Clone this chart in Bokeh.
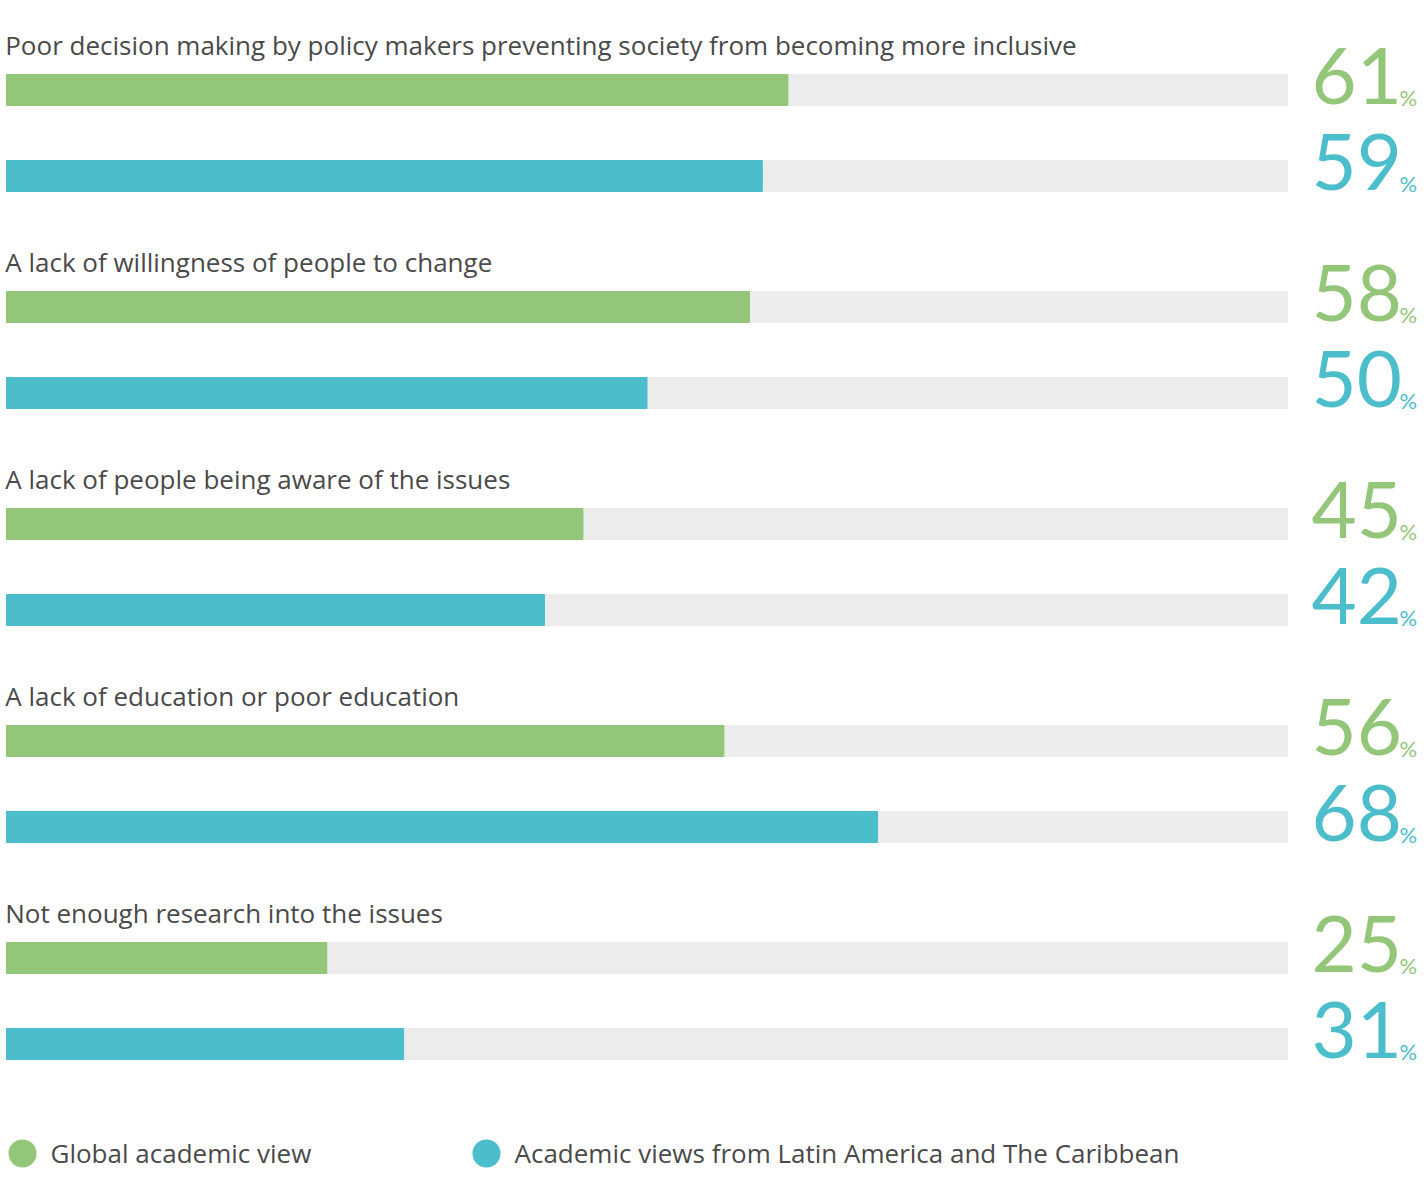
from bokeh.plotting import figure
from bokeh.models import Range1d, ColumnDataSource
from bokeh.core.properties import value
from bokeh.embed import file_html
from bokeh.resources import INLINE

categories = [
    "Poor decision making by policy makers preventing society from becoming more inclusive",
    "A lack of willingness of people to change",
    "A lack of people being aware of the issues",
    "A lack of education or poor education",
    "Not enough research into the issues",
]
global_vals = [61, 58, 45, 56, 25]
latam_vals = [59, 50, 42, 68, 31]
series_names = ["Global academic view", "Academic views from Latin America and The Caribbean"]

GREEN = "#93c679"
BLUE = "#4bbdcb"
TRACK = "#ececec"
TEXT = "#4a4a4a"
LABEL_FONT = "Open Sans"
NUM_FONT = "Lato"

W, H = 1418, 1180
PX_PER_UNIT = 12.81          # pixels per percentage point
X0_PX = 6                    # picture x of 0 %
x_start = -X0_PX / PX_PER_UNIT
x_end = x_start + W / PX_PER_UNIT

p = figure(width=W, height=H, output_backend="svg", toolbar_location=None,
           x_range=Range1d(x_start, x_end), y_range=Range1d(H, 0),
           min_border=0)
p.axis.visible = False
p.grid.visible = False
p.outline_line_color = None
p.background_fill_color = "white"

GROUP_TOP = 89.5
GROUP_STEP = 217
PAIR_GAP = 86
BAR_H = 31

LABEL_SIZE = 26
NUM_SIZE = 78
PCT_SIZE = 22
BASE_FIX = 0.38   # baseline correction, fraction of font size

gy = [GROUP_TOP + i * GROUP_STEP for i in range(len(categories))]
by = [y + PAIR_GAP for y in gy]

src = ColumnDataSource(dict(
    gy=gy, by=by, gv=global_vals, bv=latam_vals, cat=categories,
    gl=[str(v) for v in global_vals], bl=[str(v) for v in latam_vals],
    gnum=[y + BAR_H / 2 - BASE_FIX * NUM_SIZE for y in gy],
    bnum=[y + BAR_H / 2 - BASE_FIX * NUM_SIZE for y in by],
    gpct=[y + BAR_H / 2 - BASE_FIX * PCT_SIZE for y in gy],
    bpct=[y + BAR_H / 2 - BASE_FIX * PCT_SIZE for y in by],
    laby=[y - 35 - BASE_FIX * LABEL_SIZE for y in gy],
))

# tracks
p.hbar(y="gy", left=0, right=100, height=BAR_H, color=TRACK, source=src)
p.hbar(y="by", left=0, right=100, height=BAR_H, color=TRACK, source=src)
# bars
p.hbar(y="gy", left=0, right="gv", height=BAR_H, color=GREEN, source=src)
p.hbar(y="by", left=0, right="bv", height=BAR_H, color=BLUE, source=src)

# category labels
p.text(x=-0.1, y="laby", text="cat", source=src, text_font=value(LABEL_FONT),
       text_font_size=f"{LABEL_SIZE}px", text_color=TEXT, text_baseline="alphabetic",
       text_align="left")

# big percentage numbers
NUM_X = (1311 - X0_PX) / PX_PER_UNIT
PCT_X = (1399 - X0_PX) / PX_PER_UNIT
for ny, py, lcol, col in (("gnum", "gpct", "gl", GREEN), ("bnum", "bpct", "bl", BLUE)):
    p.text(x=NUM_X, y=ny, text=lcol, source=src, text_font=value(NUM_FONT),
           text_font_size=f"{NUM_SIZE}px", text_color=col, text_baseline="alphabetic",
           text_align="left")
    p.text(x=PCT_X, y=py, text=value("%"), source=src, text_font=value(NUM_FONT),
           text_font_size=f"{PCT_SIZE}px", text_color=col, text_baseline="alphabetic",
           text_align="left")

# legend
leg_x = [(22 - X0_PX) / PX_PER_UNIT, (486 - X0_PX) / PX_PER_UNIT]
leg_tx = [(50 - X0_PX) / PX_PER_UNIT, (514 - X0_PX) / PX_PER_UNIT]
p.scatter(x=leg_x, y=[1153, 1153], size=28, color=[GREEN, BLUE], marker="circle",
          line_color=None)
p.text(x=leg_tx, y=[1152, 1152], text=series_names, text_font=value(LABEL_FONT),
       text_font_size=f"{LABEL_SIZE}px", text_color=TEXT, text_baseline="middle",
       text_align="left")

open("out.html", "w").write(file_html(p, INLINE))
